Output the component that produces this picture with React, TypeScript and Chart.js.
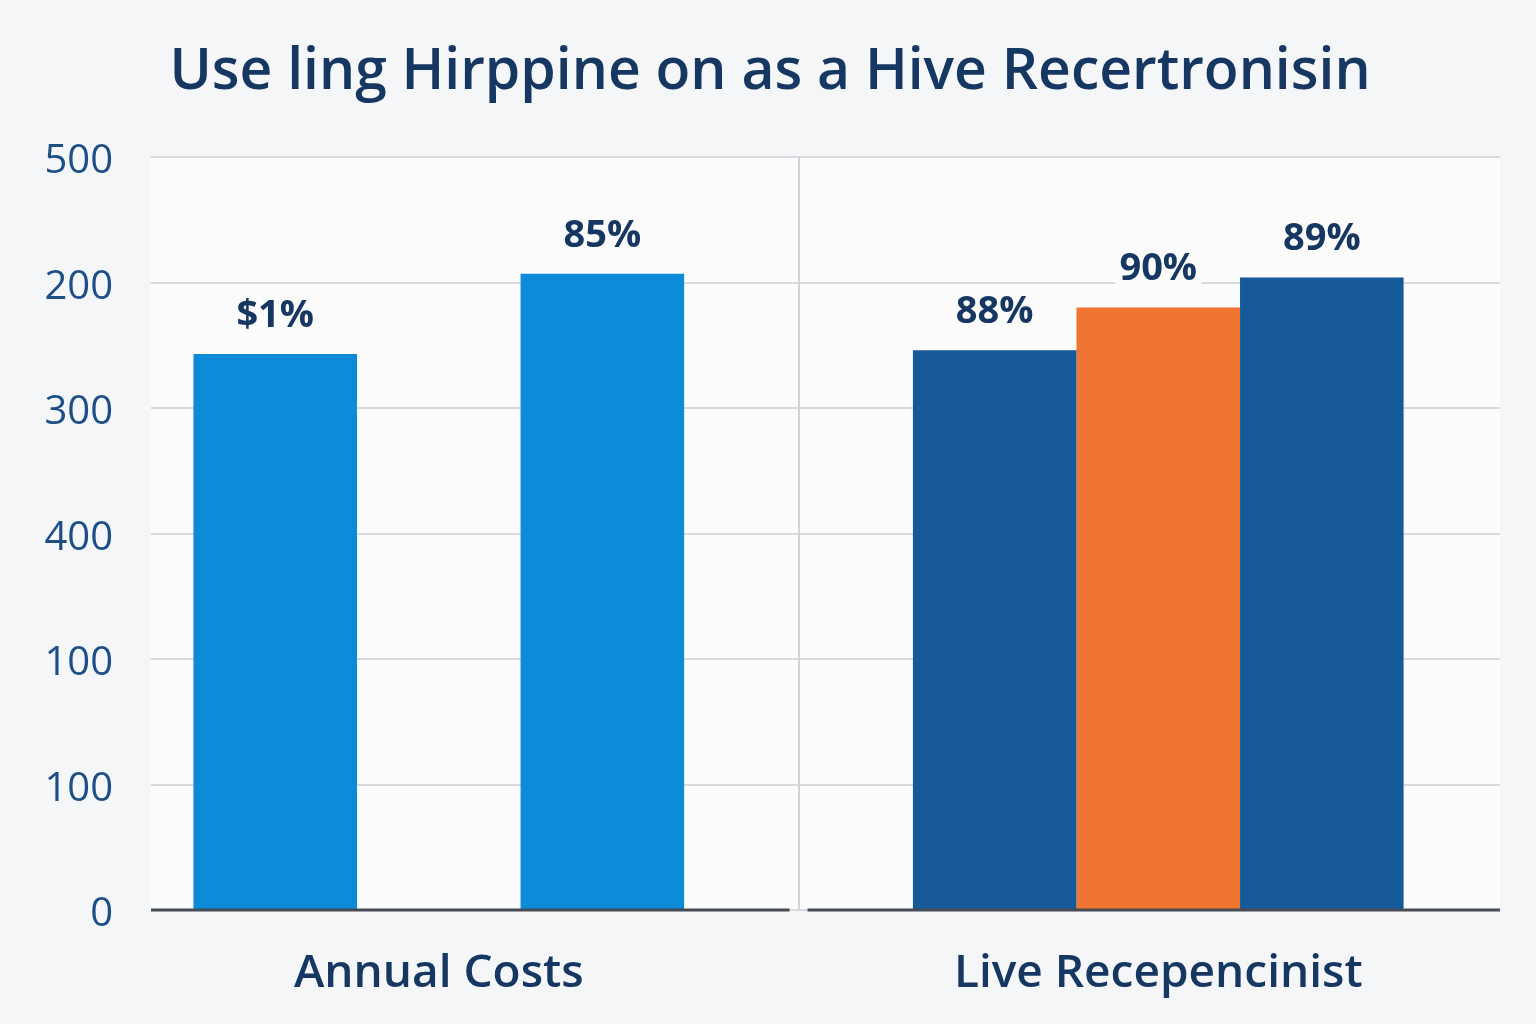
import { useEffect, useRef } from 'react';
import { Chart, registerables } from 'chart.js';

Chart.register(...registerables);

const chartTitle = 'Use ling Hirppine on as a Hive Recertronisin';
const categories = ['Annual Costs', 'Live Recepencinist'];
const yTickLabels = ['0', '100', '100', '400', '300', '200', '500'];

const seriesA: (number | null)[] = [443, 446];
const seriesB: (number | null)[] = [null, 480];
const seriesC: (number | null)[] = [507, 504];

const labelsA = ['$1%', '88%'];
const labelsB = ['', '90%'];
const labelsC = ['85%', '89%'];

const colorsA = ['#0b8bd8', '#165a99'];
const colorsB = ['#0b8bd8', '#f07532'];
const colorsC = ['#0b8bd8', '#165a99'];

const FONT = '"Open Sans", "Noto Sans", sans-serif';
const PAGE_BG = '#f5f6f8';
const PLOT_BG = '#fcfcfd';
const NAVY_TEXT = '#163761';

const toPoints = (vals: (number | null)[]) => vals.map((v, i) => ({ x: i, y: v }));

const bgPlugin = {
  id: 'bgPlugin',
  beforeDraw(chart: any) {
    const { ctx, chartArea } = chart;
    ctx.save();
    ctx.fillStyle = PAGE_BG;
    ctx.fillRect(0, 0, chart.width, chart.height);
    ctx.fillStyle = PLOT_BG;
    ctx.fillRect(chartArea.left, chartArea.top, chartArea.right - chartArea.left, chartArea.bottom - chartArea.top);
    ctx.restore();
  },
};

const dividerPlugin = {
  id: 'dividerPlugin',
  beforeDatasetsDraw(chart: any) {
    const { ctx, chartArea, scales } = chart;
    const mid = Math.round(scales.x.getPixelForValue(0.5));
    ctx.save();
    ctx.strokeStyle = '#d2d3d6';
    ctx.lineWidth = 2;
    ctx.beginPath();
    ctx.moveTo(mid, chartArea.top);
    ctx.lineTo(mid, chartArea.bottom);
    ctx.stroke();
    ctx.restore();
  },
};

const titlePlugin = {
  id: 'titlePlugin',
  afterDraw(chart: any) {
    const { ctx } = chart;
    ctx.save();
    ctx.font = `600 57px ${FONT}`;
    ctx.fillStyle = NAVY_TEXT;
    ctx.textAlign = 'center';
    ctx.textBaseline = 'alphabetic';
    ctx.fillText(chartTitle, 770, 89);
    ctx.restore();
  },
};

const valueLabelPlugin = {
  id: 'valueLabelPlugin',
  afterDatasetsDraw(chart: any) {
    const { ctx } = chart;
    ctx.save();
    ctx.font = `700 38px ${FONT}`;
    ctx.textAlign = 'center';
    ctx.textBaseline = 'middle';
    chart.data.datasets.forEach((ds: any, di: number) => {
      const meta = chart.getDatasetMeta(di);
      meta.data.forEach((el: any, i: number) => {
        const txt = ds.valueLabels[i];
        if (!txt) return;
        const x = el.x;
        const y = el.y - 38;
        const w = ctx.measureText(txt).width;
        ctx.fillStyle = PLOT_BG;
        ctx.fillRect(x - w / 2 - 4, y - 16, w + 8, 32);
        ctx.fillStyle = NAVY_TEXT;
        ctx.fillText(txt, x, y);
      });
    });
    ctx.restore();
  },
};

const axisLinePlugin = {
  id: 'axisLinePlugin',
  afterDatasetsDraw(chart: any) {
    const { ctx, chartArea, scales } = chart;
    const mid = scales.x.getPixelForValue(0.5);
    const y = chartArea.bottom;
    ctx.save();
    ctx.strokeStyle = '#474b54';
    ctx.lineWidth = 3;
    ctx.beginPath();
    ctx.moveTo(chartArea.left, y);
    ctx.lineTo(mid - 9, y);
    ctx.moveTo(mid + 9, y);
    ctx.lineTo(chartArea.right, y);
    ctx.stroke();
    ctx.restore();
  },
};

export default function App() {
  const canvasRef = useRef<HTMLCanvasElement | null>(null);

  useEffect(() => {
    if (!canvasRef.current) return;
    const chart = new Chart(canvasRef.current, {
      type: 'bar',
      data: {
        datasets: [
          { data: toPoints(seriesA) as any, backgroundColor: colorsA, valueLabels: labelsA } as any,
          { data: toPoints(seriesB) as any, backgroundColor: colorsB, valueLabels: labelsB } as any,
          { data: toPoints(seriesC) as any, backgroundColor: colorsC, valueLabels: labelsC } as any,
        ],
      },
      options: {
        responsive: false,
        animation: false,
        layout: { padding: { top: 157, right: 36, left: 0, bottom: 0 } },
        datasets: { bar: { categoryPercentage: 0.682, barPercentage: 1 } },
        plugins: {
          legend: { display: false },
          tooltip: { enabled: false },
          title: { display: false },
        },
        scales: {
          x: {
            type: 'linear',
            min: -0.4,
            max: 1.475,
            offset: false,
            afterBuildTicks: (scale: any) => {
              scale.ticks = [0, 1].map((v) => ({ value: v }));
            },
            afterFit: (scale: any) => {
              scale.height = 114;
            },
            border: { display: false },
            grid: { display: false, offset: false, drawTicks: false },
            ticks: {
              autoSkip: false,
              maxRotation: 0,
              padding: 36,
              color: NAVY_TEXT,
              font: { family: FONT, size: 46, weight: 600 as any },
              callback: (value: any) => categories[Math.round(Number(value))] ?? '',
            },
          },
          y: {
            type: 'linear',
            min: 0,
            max: 600,
            afterFit: (scale: any) => {
              scale.width = 151;
            },
            border: { display: false },
            grid: { drawTicks: false, lineWidth: 2, color: '#d9dadd' },
            ticks: {
              stepSize: 100,
              padding: 38,
              labelOffset: 5,
              color: '#1d4f86',
              font: { family: FONT, size: 40, weight: 400 as any },
              callback: (value: any) => yTickLabels[Math.round(Number(value) / 100)],
            },
          },
        },
      } as any,
      plugins: [bgPlugin, dividerPlugin, valueLabelPlugin, axisLinePlugin, titlePlugin],
    });
    return () => chart.destroy();
  }, []);

  return (
    <div style={{ position: 'absolute', left: 0, top: 0, width: 1536, height: 1024, background: PAGE_BG }}>
      <canvas ref={canvasRef} width={1536} height={1024} />
    </div>
  );
}
